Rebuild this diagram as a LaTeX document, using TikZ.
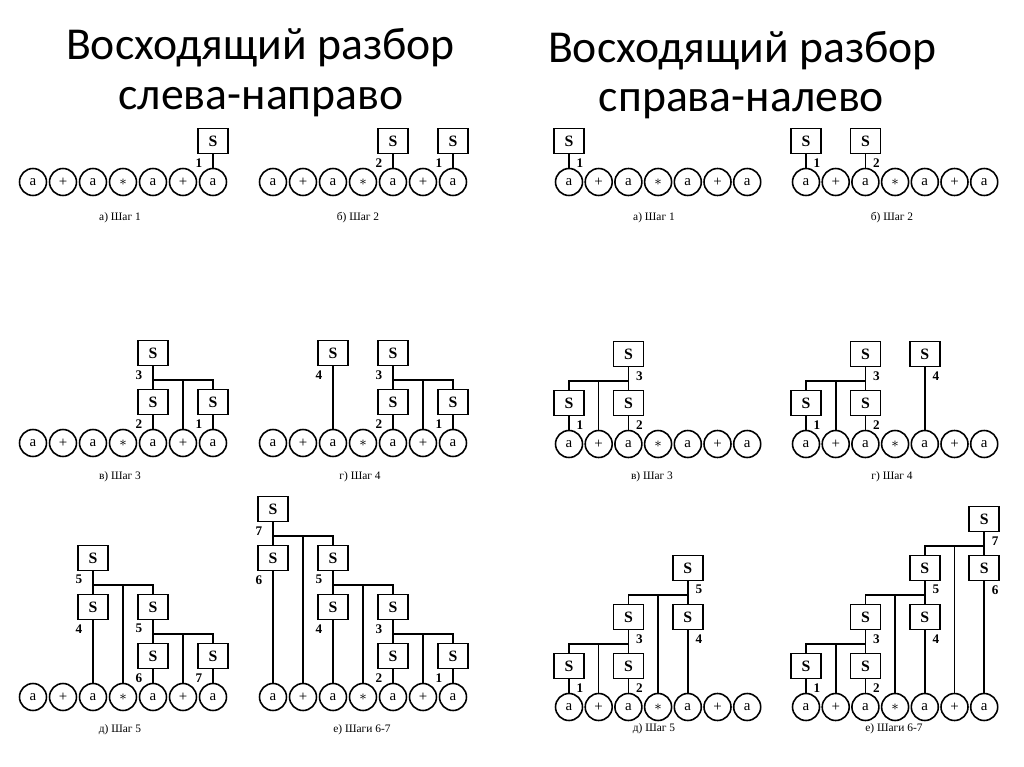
\documentclass[tikz,border=0pt]{standalone}
\usepackage{fontspec}
\setmainfont{Liberation Serif}
\newfontfamily\titlefont{Carlito}
\usetikzlibrary{positioning}

\begin{document}
\begin{tikzpicture}[
        x=0.02cm, y=-0.02cm,
        sym/.style = {draw, circle, minimum size=0.54cm, inner sep=0pt, line width=0.9pt, font=\fontsize{8.5}{9}\selectfont},
        nt/.style = {draw, rectangle, minimum width=0.6cm, minimum height=0.5cm, inner sep=0pt, line width=0.9pt, font=\fontsize{9}{10}\selectfont\bfseries},
        lv1/.style = {nt, above=0.27cm of #1},
        lv2/.style = {nt, above=1.25cm of #1},
        lv3/.style = {nt, above=2.23cm of #1},
        lv4/.style = {nt, above=3.21cm of #1},
        numl/.style = {inner sep=0pt, font=\fontsize{7.5}{8}\selectfont\bfseries, xshift=-0.28cm, yshift=-0.17cm},
        numr/.style = {inner sep=0pt, font=\fontsize{7.5}{8}\selectfont\bfseries, xshift=0.22cm, yshift=-0.17cm},
        subcap/.style = {font=\fontsize{6.5}{8}\selectfont},
        ttl/.style = {anchor=base, font=\titlefont\fontsize{26}{30}\selectfont},
        wire/.style = {line width=0.9pt}
    ]
        \useasboundingbox (0,0) rectangle (1024,767);

        \node[ttl] (LT1) at (260.5,60) {Восходящий разбор};
        \node[ttl] (LT2) at (261,110) {слева-направо};
        \node[ttl] (RT1) at (742.5,63) {Восходящий разбор};
        \node[ttl] (RT2) at (741.5,112) {справа-налево};

        % rows of symbols
        \foreach \p/\x/\y/\d in {La/33/182/30, Lb/273/182/30, Lc/33/443/30, Ld/273/443/30, Le/33/697/30, Lf/273/697/30,
                                 Ra/569/182/29.7, Rb/806/182/29.7, Rc/569/444/29.7, Rd/806/444/29.7, Re/569/707/29.7, Rf/806/707/29.7}
            \foreach \t [count=\i] in {a,+,a,$*$,a,+,a}
                \node[sym] (\p\i) at ({\x+\d*(\i-1)},\y) {\t};

        % left, a
        \node[lv1=La7] (LaS1) {S};
        \draw[wire] (LaS1) -- (La7);
        \node[numl] (LaN1) at (LaS1.south) {1};
        \node[subcap] (LaC) at (120,218) {а) Шаг 1};

        % left, b
        \node[lv1=Lb7] (LbS1) {S};
        \node[lv1=Lb5] (LbS2) {S};
        \draw[wire] (LbS1) -- (Lb7);
        \draw[wire] (LbS2) -- (Lb5);
        \node[numl] (LbN1) at (LbS1.south) {1};
        \node[numl] (LbN2) at (LbS2.south) {2};
        \node[subcap] (LbC) at (358,218) {б) Шаг 2};

        % left, c
        \node[lv1=Lc7] (LcS1) {S};
        \node[lv1=Lc5] (LcS2) {S};
        \node[lv2=Lc5] (LcS3) {S};
        \coordinate[below=0.27cm of LcS3] (LcB3);
        \draw[wire] (LcS1) -- (Lc7);
        \draw[wire] (LcS2) -- (Lc5);
        \draw[wire] (LcS3) -- (LcB3) -| (LcS2) (LcB3) -| (Lc6) (LcB3) -| (LcS1);
        \node[numl] (LcN1) at (LcS1.south) {1};
        \node[numl] (LcN2) at (LcS2.south) {2};
        \node[numl] (LcN3) at (LcS3.south) {3};
        \node[subcap] (LcC) at (120,477) {в) Шаг 3};

        % left, d
        \node[lv1=Ld7] (LdS1) {S};
        \node[lv1=Ld5] (LdS2) {S};
        \node[lv2=Ld5] (LdS3) {S};
        \node[lv2=Ld3] (LdS4) {S};
        \coordinate[below=0.27cm of LdS3] (LdB3);
        \draw[wire] (LdS1) -- (Ld7);
        \draw[wire] (LdS2) -- (Ld5);
        \draw[wire] (LdS3) -- (LdB3) -| (LdS2) (LdB3) -| (Ld6) (LdB3) -| (LdS1);
        \draw[wire] (LdS4) -- (Ld3);
        \node[numl] (LdN1) at (LdS1.south) {1};
        \node[numl] (LdN2) at (LdS2.south) {2};
        \node[numl] (LdN3) at (LdS3.south) {3};
        \node[numl] (LdN4) at (LdS4.south) {4};
        \node[subcap] (LdC) at (360,477) {г) Шаг 4};

        % left, e
        \node[lv1=Le7] (LeS7) {S};
        \node[lv1=Le5] (LeS6) {S};
        \node[lv2=Le5] (LeS5b) {S};
        \node[lv2=Le3] (LeS4) {S};
        \node[lv3=Le3] (LeS5) {S};
        \coordinate[below=0.27cm of LeS5b] (LeB5b);
        \coordinate[below=0.27cm of LeS5] (LeB5);
        \draw[wire] (LeS7) -- (Le7);
        \draw[wire] (LeS6) -- (Le5);
        \draw[wire] (LeS5b) -- (LeB5b) -| (LeS6) (LeB5b) -| (Le6) (LeB5b) -| (LeS7);
        \draw[wire] (LeS4) -- (Le3);
        \draw[wire] (LeS5) -- (LeB5) -| (LeS4) (LeB5) -| (Le4) (LeB5) -| (LeS5b);
        \node[numl] (LeN7) at (LeS7.south) {7};
        \node[numl] (LeN6) at (LeS6.south) {6};
        \node[numl] (LeN5b) at (LeS5b.south) {5};
        \node[numl] (LeN4) at (LeS4.south) {4};
        \node[numl] (LeN5) at (LeS5.south) {5};
        \node[subcap] (LeC) at (120,730) {д) Шаг 5};

        % left, f
        \node[lv1=Lf7] (LfS1) {S};
        \node[lv1=Lf5] (LfS2) {S};
        \node[lv2=Lf5] (LfS3) {S};
        \node[lv2=Lf3] (LfS4) {S};
        \node[lv3=Lf3] (LfS5) {S};
        \node[lv3=Lf1] (LfS6) {S};
        \node[lv4=Lf1] (LfS7) {S};
        \coordinate[below=0.27cm of LfS3] (LfB3);
        \coordinate[below=0.27cm of LfS5] (LfB5);
        \coordinate[below=0.27cm of LfS7] (LfB7);
        \draw[wire] (LfS1) -- (Lf7);
        \draw[wire] (LfS2) -- (Lf5);
        \draw[wire] (LfS3) -- (LfB3) -| (LfS2) (LfB3) -| (Lf6) (LfB3) -| (LfS1);
        \draw[wire] (LfS4) -- (Lf3);
        \draw[wire] (LfS5) -- (LfB5) -| (LfS4) (LfB5) -| (Lf4) (LfB5) -| (LfS3);
        \draw[wire] (LfS6) -- (Lf1);
        \draw[wire] (LfS7) -- (LfB7) -| (LfS6) (LfB7) -| (Lf2) (LfB7) -| (LfS5);
        \node[numl] (LfN1) at (LfS1.south) {1};
        \node[numl] (LfN2) at (LfS2.south) {2};
        \node[numl] (LfN3) at (LfS3.south) {3};
        \node[numl] (LfN4) at (LfS4.south) {4};
        \node[numl] (LfN5) at (LfS5.south) {5};
        \node[numl] (LfN6) at (LfS6.south) {6};
        \node[numl] (LfN7) at (LfS7.south) {7};
        \node[subcap] (LfC) at (362,730) {е) Шаги 6-7};

        % right, a
        \node[lv1=Ra1] (RaS1) {S};
        \draw[wire] (RaS1) -- (Ra1);
        \node[numr] (RaN1) at (RaS1.south) {1};
        \node[subcap] (RaC) at (654,218) {а) Шаг 1};

        % right, b
        \node[lv1=Rb1] (RbS1) {S};
        \node[lv1=Rb3] (RbS2) {S};
        \draw[wire] (RbS1) -- (Rb1);
        \draw[wire] (RbS2) -- (Rb3);
        \node[numr] (RbN1) at (RbS1.south) {1};
        \node[numr] (RbN2) at (RbS2.south) {2};
        \node[subcap] (RbC) at (892,218) {б) Шаг 2};

        % right, c
        \node[lv1=Rc1] (RcS1) {S};
        \node[lv1=Rc3] (RcS2) {S};
        \node[lv2=Rc3] (RcS3) {S};
        \coordinate[below=0.27cm of RcS3] (RcB3);
        \draw[wire] (RcS1) -- (Rc1);
        \draw[wire] (RcS2) -- (Rc3);
        \draw[wire] (RcS3) -- (RcB3) -| (RcS2) (RcB3) -| (Rc2) (RcB3) -| (RcS1);
        \node[numr] (RcN1) at (RcS1.south) {1};
        \node[numr] (RcN2) at (RcS2.south) {2};
        \node[numr] (RcN3) at (RcS3.south) {3};
        \node[subcap] (RcC) at (652,477) {в) Шаг 3};

        % right, d
        \node[lv1=Rd1] (RdS1) {S};
        \node[lv1=Rd3] (RdS2) {S};
        \node[lv2=Rd3] (RdS3) {S};
        \node[lv2=Rd5] (RdS4) {S};
        \coordinate[below=0.27cm of RdS3] (RdB3);
        \draw[wire] (RdS1) -- (Rd1);
        \draw[wire] (RdS2) -- (Rd3);
        \draw[wire] (RdS3) -- (RdB3) -| (RdS2) (RdB3) -| (Rd2) (RdB3) -| (RdS1);
        \draw[wire] (RdS4) -- (Rd5);
        \node[numr] (RdN1) at (RdS1.south) {1};
        \node[numr] (RdN2) at (RdS2.south) {2};
        \node[numr] (RdN3) at (RdS3.south) {3};
        \node[numr] (RdN4) at (RdS4.south) {4};
        \node[subcap] (RdC) at (892,477) {г) Шаг 4};

        % right, e
        \node[lv1=Re1] (ReS1) {S};
        \node[lv1=Re3] (ReS2) {S};
        \node[lv2=Re3] (ReS3) {S};
        \node[lv2=Re5] (ReS4) {S};
        \node[lv3=Re5] (ReS5) {S};
        \coordinate[below=0.27cm of ReS3] (ReB3);
        \coordinate[below=0.27cm of ReS5] (ReB5);
        \draw[wire] (ReS1) -- (Re1);
        \draw[wire] (ReS2) -- (Re3);
        \draw[wire] (ReS3) -- (ReB3) -| (ReS2) (ReB3) -| (Re2) (ReB3) -| (ReS1);
        \draw[wire] (ReS4) -- (Re5);
        \draw[wire] (ReS5) -- (ReB5) -| (ReS4) (ReB5) -| (Re4) (ReB5) -| (ReS3);
        \node[numr] (ReN1) at (ReS1.south) {1};
        \node[numr] (ReN2) at (ReS2.south) {2};
        \node[numr] (ReN3) at (ReS3.south) {3};
        \node[numr] (ReN4) at (ReS4.south) {4};
        \node[numr] (ReN5) at (ReS5.south) {5};
        \node[subcap] (ReC) at (654,729) {д) Шаг 5};

        % right, f
        \node[lv1=Rf1] (RfS1) {S};
        \node[lv1=Rf3] (RfS2) {S};
        \node[lv2=Rf3] (RfS3) {S};
        \node[lv2=Rf5] (RfS4) {S};
        \node[lv3=Rf5] (RfS5) {S};
        \node[lv3=Rf7] (RfS6) {S};
        \node[lv4=Rf7] (RfS7) {S};
        \coordinate[below=0.27cm of RfS3] (RfB3);
        \coordinate[below=0.27cm of RfS5] (RfB5);
        \coordinate[below=0.27cm of RfS7] (RfB7);
        \draw[wire] (RfS1) -- (Rf1);
        \draw[wire] (RfS2) -- (Rf3);
        \draw[wire] (RfS3) -- (RfB3) -| (RfS2) (RfB3) -| (Rf2) (RfB3) -| (RfS1);
        \draw[wire] (RfS4) -- (Rf5);
        \draw[wire] (RfS5) -- (RfB5) -| (RfS4) (RfB5) -| (Rf4) (RfB5) -| (RfS3);
        \draw[wire] (RfS6) -- (Rf7);
        \draw[wire] (RfS7) -- (RfB7) -| (RfS6) (RfB7) -| (Rf6) (RfB7) -| (RfS5);
        \node[numr] (RfN1) at (RfS1.south) {1};
        \node[numr] (RfN2) at (RfS2.south) {2};
        \node[numr] (RfN3) at (RfS3.south) {3};
        \node[numr] (RfN4) at (RfS4.south) {4};
        \node[numr] (RfN5) at (RfS5.south) {5};
        \node[numr] (RfN6) at (RfS6.south) {6};
        \node[numr] (RfN7) at (RfS7.south) {7};
        \node[subcap] (RfC) at (894,729) {е) Шаги 6-7};

    \end{tikzpicture}
\end{document}
